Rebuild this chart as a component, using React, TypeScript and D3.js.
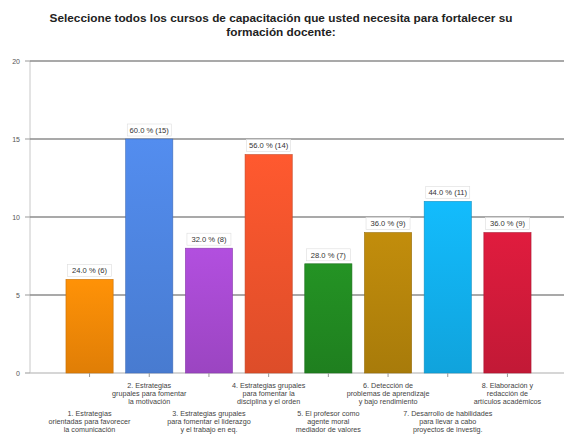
import React from "react";
import * as d3 from "d3";

const categories: string[][] = [
  ["1. Estrategias", "orientadas para favorecer", "la comunicación"],
  ["2. Estrategias", "grupales para fomentar", "la motivación"],
  ["3. Estrategias grupales", "para fomentar el liderazgo", "y el trabajo en eq."],
  ["4. Estrategias grupales", "para fomentar la", "disciplina y el orden"],
  ["5. El profesor como", "agente moral", "mediador de valores"],
  ["6. Detección de", "problemas de aprendizaje", "y bajo rendimiento"],
  ["7. Desarrollo de habilidades", "para llevar a cabo", "proyectos de investig."],
  ["8. Elaboración y", "redacción de", "artículos académicos"],
];
const counts = [6, 15, 8, 14, 7, 9, 11, 9];
const percents = [24.0, 60.0, 32.0, 56.0, 28.0, 36.0, 44.0, 36.0];
const colors = ["#f58a07", "#4f86e3", "#a94bd3", "#f2542d", "#228b22", "#b8860b", "#12b2f0", "#d41b3b"];
const yTicks = [0, 5, 10, 15, 20];
const titleLines = [
  "Seleccione todos los cursos de capacitación que usted necesita para fortalecer su",
  "formación docente:",
];

export default function App() {
  const W = 564, H = 434;
  const x = d3.scaleBand<number>().domain(d3.range(counts.length)).range([60, 537]).paddingInner(0.21).paddingOuter(0.1);
  const y = d3.scaleLinear().domain([0, 20]).range([373, 61]);
  const font = "'Liberation Sans', Arial, sans-serif";
  return (
    <svg width={W} height={H} style={{ position: "absolute", left: 0, top: 0, background: "#fff" }} fontFamily={font}>
      <defs>
        {colors.map((c, i) => (
          <linearGradient key={i} id={`g${i}`} x1="0" y1="0" x2="0" y2="1">
            <stop offset="0" stopColor={d3.color(c)!.brighter(0.15).formatHex()} />
            <stop offset="1" stopColor={d3.color(c)!.darker(0.25).formatHex()} />
          </linearGradient>
        ))}
      </defs>
      {titleLines.map((t, i) => (
        <text key={i} x={281} y={22 + i * 13.5} textAnchor="middle" fontSize={11.8} fontWeight="bold" fill="#222">{t}</text>
      ))}
      <line x1={30} x2={30} y1={y(20)} y2={y(0)} stroke="#c8c8c8" strokeWidth={1} />
      {yTicks.map((t) => (
        <g key={t}>
          <line x1={30} x2={564} y1={y(t)} y2={y(t)} stroke={t === 0 ? "#c8c8c8" : "#8c8c8c"} strokeWidth={t === 0 ? 1.5 : 1.4} />
          <line x1={25} x2={30} y1={y(t)} y2={y(t)} stroke="#999" />
          <text x={20} y={y(t) + 2.5} textAnchor="end" fontSize={7} fill="#555">{t}</text>
        </g>
      ))}
      {counts.map((v, i) => {
        const bx = x(i)!, bw = x.bandwidth();
        const cx = bx + bw / 2;
        const label = `${percents[i].toFixed(1)} % (${v})`;
        const lw = 44;
        const top = y(v);
        return (
          <g key={i}>
            <rect x={bx} y={top} width={bw} height={y(0) - top} fill={`url(#g${i})`} stroke={d3.color(colors[i])!.darker(0.6).formatHex()} strokeWidth={0.6} />
            <line x1={cx} x2={cx} y1={y(0)} y2={y(0) + 4} stroke="#999" />
            <rect x={cx - lw / 2} y={top - 15} width={lw} height={12} fill="#fff" stroke="#ddd" strokeWidth={0.6} />
            <text x={cx} y={top - 6.3} textAnchor="middle" fontSize={7.6} fill="#333">{label}</text>
            {categories[i].map((ln, j) => (
              <text key={j} x={cx} y={(i % 2 === 1 ? 388 : 416) + j * 8} textAnchor="middle" fontSize={7.2} fill="#444">{ln}</text>
            ))}
          </g>
        );
      })}
    </svg>
  );
}
